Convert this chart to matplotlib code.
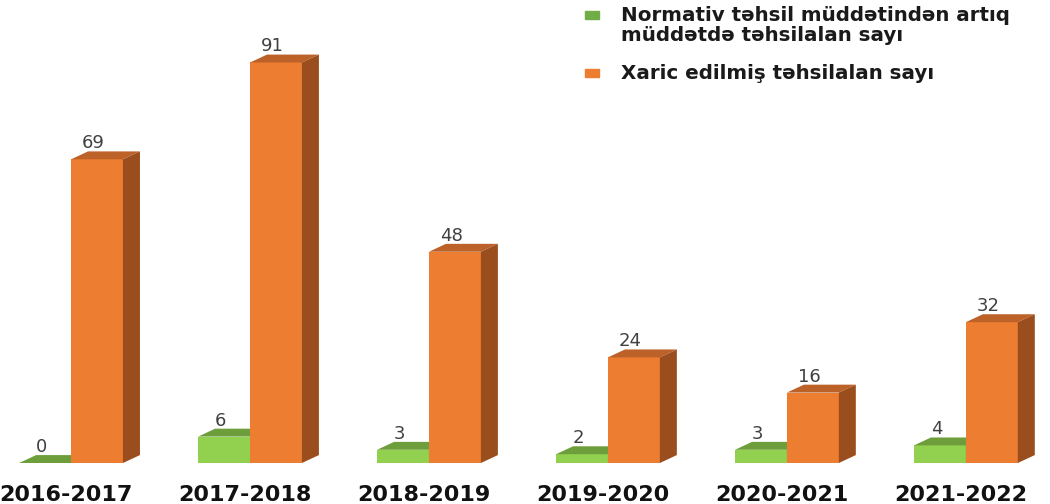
import matplotlib.pyplot as plt
from matplotlib.patches import Polygon, Rectangle

# data
years = ["2016-2017", "2017-2018", "2018-2019", "2019-2020", "2020-2021", "2021-2022"]
overdue = [0, 6, 3, 2, 3, 4]
expelled = [69, 91, 48, 24, 16, 32]
label_overdue = "Normativ təhsil müddətindən artıq\nmüddətdə təhsilalan sayı"
label_expelled = "Xaric edilmiş təhsilalan sayı"

# colours: front, top, side
green = ("#92D050", "#6E9E3C", "#5E8A33")
orange = ("#ED7D31", "#BC6128", "#9A4D1D")

W, H = 1050, 504
fig = plt.figure(figsize=(W / 100, H / 100), dpi=100)
ax = fig.add_axes([0, 41 / H, 1, 463 / H])
ax.set_xlim(-0.397, 5.47)
ax.set_ylim(0, 105.2)
ax.axis("off")

w = 0.29      # bar width
dx = 0.095    # depth in x
dy = 1.8      # depth in value units


def bar3d(x0, v, cols, z):
    ax.bar(x0, v, width=w, align="edge", color=cols[0], zorder=z, linewidth=0)
    top = [(x0, v), (x0 + w, v), (x0 + w + dx, v + dy), (x0 + dx, v + dy)]
    side = [(x0 + w, 0), (x0 + w + dx, dy), (x0 + w + dx, v + dy), (x0 + w, v)]
    ax.add_patch(Polygon(top, closed=True, color=cols[1], zorder=z, linewidth=0))
    ax.add_patch(Polygon(side, closed=True, color=cols[2], zorder=z, linewidth=0))


for i in range(len(years)):
    bar3d(i - w, overdue[i], green, 2)
    bar3d(i, expelled[i], orange, 3)
    ax.text(i - w / 2 - 0.02, overdue[i] + dy - 0.2, str(overdue[i]), ha="center", va="bottom",
            fontsize=13, color="#404040")
    ax.text(i + w / 2 - 0.02, expelled[i] + dy - 0.2, str(expelled[i]), ha="center", va="bottom",
            fontsize=13, color="#404040")
    ax.text(i - 0.03, -7.3, years[i], ha="center", va="center", fontsize=16,
            fontweight="bold", color="#111111", clip_on=False)

# legend drawn by hand so the marker sits on the first line
legend_items = [(label_overdue, "#70AD47", 15), (label_expelled, "#ED7D31", 73)]
for text, col, ypx in legend_items:
    fig.add_artist(Rectangle((585 / W, 1 - (ypx + 4) / H), 14 / W, 8 / H,
                             transform=fig.transFigure, color=col))
    fig.text(621 / W, 1 - (ypx - 9) / H, text, ha="left", va="top", fontsize=14.3,
             fontweight="bold", color="#1a1a1a", linespacing=1.05)

fig.savefig("out.png", dpi=100)
